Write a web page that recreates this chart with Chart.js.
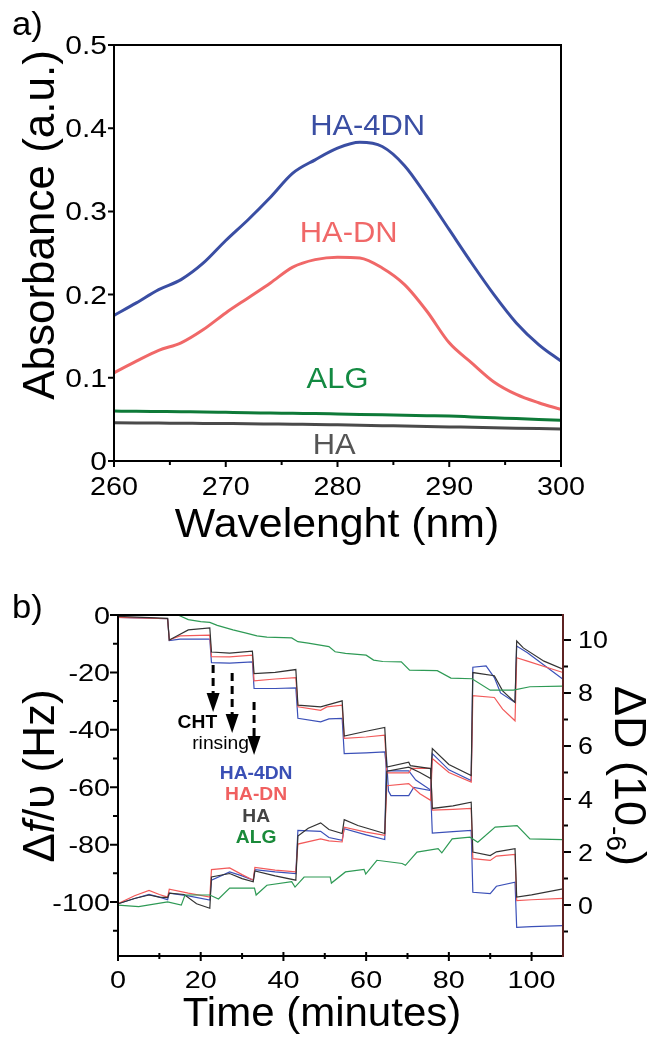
<!DOCTYPE html>
<html>
<head>
<meta charset="utf-8">
<script src="https://cdn.jsdelivr.net/npm/chart.js@4.4.0/dist/chart.umd.min.js"></script>
<style>
  html, body { margin: 0; padding: 0; background: #fff; }
  #wrap { position: relative; width: 654px; height: 1037px; overflow: hidden; }
  canvas { position: absolute; left: 0; }
  #chartA { top: 0; }
  #chartB { top: 560px; }
</style>
</head>
<body>
<div id="wrap">
  <canvas id="chartA" width="654" height="560"></canvas>
  <canvas id="chartB" width="654" height="477"></canvas>
</div>
<script>
const FONT = '"Liberation Sans", Arial, Helvetica, sans-serif';

// ---- panel a : UV absorbance ----
const wavelength = [260, 262, 264, 266, 268, 270, 272, 274, 276, 278, 280, 282, 284, 286, 288, 290, 292, 294, 296, 298, 300];
const absHA4DN = [0.175, 0.19, 0.206, 0.218, 0.238, 0.265, 0.29, 0.317, 0.346, 0.362, 0.376, 0.383, 0.378, 0.355, 0.318, 0.278, 0.238, 0.2, 0.166, 0.14, 0.12];
const absHADN  = [0.106, 0.12, 0.133, 0.142, 0.158, 0.178, 0.196, 0.214, 0.233, 0.242, 0.245, 0.244, 0.232, 0.212, 0.18, 0.142, 0.118, 0.095, 0.08, 0.07, 0.062];
const absALG   = [0.06, 0.0598, 0.0595, 0.0592, 0.059, 0.0585, 0.058, 0.0577, 0.0573, 0.057, 0.0565, 0.056, 0.0555, 0.055, 0.0545, 0.054, 0.053, 0.052, 0.051, 0.05, 0.049];
const absHA    = [0.046, 0.0458, 0.0456, 0.0454, 0.0452, 0.045, 0.0448, 0.0445, 0.0442, 0.044, 0.0435, 0.043, 0.0425, 0.042, 0.0415, 0.041, 0.0405, 0.04, 0.0395, 0.039, 0.0385];

const aXTicks = [260, 270, 280, 290, 300];
const aXMinor = [265, 275, 285, 295];
const aYTicks = [0, 0.1, 0.2, 0.3, 0.4, 0.5];
const aYLabels = ["0", "0.1", "0.2", "0.3", "0.4", "0.5"];

// curve labels of panel a: [text, wavelength, absorbance, colour]
const aLabels = [
  ["HA-4DN", 282.7, 0.392, "#3a4ea3"],
  ["HA-DN", 281.0, 0.263, "#f06868"],
  ["ALG", 280.0, 0.088, "#138a42"],
  ["HA", 279.7, 0.008, "#555555"]
];

// ---- panel b : QCM-D, [time (min), value] ----
const dfHA4DN = [[0,-0.8],[12.0,-1.3],[12.4,-8.9],[15,-8.4],[22.2,-8.4],[22.6,-16.6],[27,-16.8],[32.5,-16.3],[32.9,-25.6],[38,-25.6],[43.0,-25.4],[43.5,-36],[49,-37.2],[51,-36.2],[54.2,-36],[54.7,-48.3],[60,-48],[64.5,-47.7],[65.0,-54.3],[70.3,-54.3],[72,-57.5],[75.6,-61],[76.0,-76],[81,-75.5],[85.4,-75],[85.8,-96.6],[90,-97.1],[91.5,-94.5],[96.0,-93.1],[96.4,-108.8],[100,-108.6],[107.6,-108.2]];
const dfHADN  = [[0,-0.8],[12.0,-1.3],[12.4,-8.7],[15,-7.3],[22.2,-7],[22.6,-14.5],[27,-14.6],[32.5,-14],[32.9,-22.9],[38,-22.3],[43.0,-21.8],[43.5,-32],[49,-33.2],[50.5,-32],[54.2,-31.4],[54.7,-43],[60,-42.5],[64.5,-41.9],[65.0,-55],[70.3,-55],[71,-53.4],[75.6,-53.4],[76.0,-68],[81,-67.7],[85.4,-67.4],[85.8,-84.9],[90,-85.5],[91.5,-84],[96.0,-83.4],[96.4,-99.5],[100,-99.2],[107.6,-98.7]];
const dfHA    = [[0,-0.5],[12.0,-1.2],[12.4,-8.7],[14,-7.5],[17,-5.2],[22.2,-4.5],[22.6,-12.9],[27,-13.3],[32.5,-12.6],[32.9,-20.4],[38,-20],[43.0,-19],[43.5,-31.4],[49,-32],[54.2,-29.9],[54.7,-42.2],[60,-40.5],[64.5,-39.2],[65.0,-53],[70.3,-51.3],[70.7,-52.5],[75.6,-53.5],[76.0,-67.4],[81,-66.5],[85.4,-65.2],[85.8,-82.6],[90,-83.8],[91.5,-82.5],[96.0,-81.4],[96.4,-98.3],[100,-97.5],[107.6,-95.4]];
const dfALG   = [[0,0],[14.5,0],[17,-1.6],[20,-2.3],[22.2,-2.6],[24,-3.6],[27.8,-5.2],[31,-6.3],[33.6,-7.3],[36,-7.7],[42,-8],[43.5,-9.3],[46,-9.8],[51,-11],[52.5,-12.8],[55,-13.4],[60,-14],[61.8,-15.7],[64,-16.2],[68.5,-16.3],[70.5,-19.2],[77.2,-19.4],[80.5,-22],[85.6,-22.2],[90,-26.2],[95.6,-26.2],[99.6,-25],[107.6,-24.8]];

const ddHA4DN = [[0,0.05],[4,0.25],[7.5,0.4],[10,0.3],[12.0,0.2],[12.4,0.45],[17,0.35],[22.2,0.19],[22.6,0.94],[27,1.25],[30,1.1],[32.7,0.94],[33.1,1.34],[38,1.25],[43.0,1.19],[43.5,2.82],[49,2.78],[51,2.55],[54.2,2.44],[54.7,2.88],[60,2.65],[64.5,2.47],[64.9,5.6],[65.4,4.3],[66,4.13],[70.3,4.13],[71.5,4.44],[75.6,4.32],[76.0,5.71],[80,5.1],[85.4,4.7],[85.8,8.97],[89,9.02],[91,8.58],[92.5,8.0],[96.0,7.64],[96.4,9.77],[99,9.52],[107.6,8.52]];
const ddHADN  = [[0,0.05],[4,0.35],[7.5,0.55],[10,0.4],[12.0,0.3],[12.4,0.6],[17,0.45],[22.2,0.3],[22.6,1.34],[27,1.4],[30,1.15],[32.7,0.94],[33.1,1.42],[38,1.32],[43.0,1.25],[43.5,2.3],[49,2.5],[51,2.42],[54.2,2.38],[54.7,2.94],[60,2.75],[64.5,2.63],[65.0,4.5],[70.3,4.58],[73,4.2],[75.6,3.95],[76.0,5.53],[80,5.0],[85.4,4.64],[85.8,7.9],[91,7.83],[93,7.39],[96.0,6.95],[96.4,9.33],[99,9.2],[107.6,8.77]];
const ddHA    = [[0,0.05],[4,0.25],[7.5,0.38],[10,0.3],[12.0,0.28],[12.4,0.45],[16,0.4],[19,0.05],[22.2,-0.12],[22.6,1.06],[27,1.19],[30,1.0],[32.7,0.88],[33.1,1.29],[38,1.1],[43.0,0.94],[43.5,2.6],[46,2.9],[49,3.1],[51,2.85],[54.2,2.7],[54.7,3.22],[58,3.0],[64.5,2.7],[65.0,5.05],[70.3,5.2],[73,5.0],[75.6,4.77],[76.0,5.9],[80,5.3],[85.4,4.89],[85.8,8.77],[91,8.65],[93,8.08],[96.0,7.64],[96.4,9.96],[98,9.7],[103,9.2],[107.6,8.9]];
const ddALG   = [[0,0],[5,-0.06],[12,0.12],[15.3,0],[16.2,0.38],[22.2,0.38],[24.3,0.23],[27,0.64],[33.0,0.64],[33.4,0.38],[36,0.75],[42,0.88],[42.8,0.68],[45,1.06],[51.3,1.06],[51.6,0.83],[55,1.25],[59.5,1.35],[59.9,1.17],[62.6,1.69],[68.7,1.57],[69.5,1.5],[72.3,2.0],[77.4,2.13],[78.3,1.97],[80.8,2.5],[85.1,2.56],[87,2.37],[91.2,2.94],[96.5,3.0],[99.6,2.5],[107.6,2.47]];

const bXTicks = [0, 20, 40, 60, 80, 100];
const bXMinor = [10, 30, 50, 70, 90];
const bFTicks = [0, -20, -40, -60, -80, -100];
const bFMinor = [-10, -30, -50, -70, -90, -110];
const bDTicks = [0, 2, 4, 6, 8, 10];
const bDMinor = [-1, 1, 3, 5, 7, 9];

// dashed arrows: [time, from Δf, to Δf]
const bArrows = [[23.0, -17.4, -33.8], [27.6, -20.2, -41.1], [32.9, -30.3, -48.8]];
// annotation text: [text, time, Δf, colour, weight]
const bLabels = [
  ["CHT", 19.2, -39.4, "#000000", "bold"],
  ["rinsing", 24.8, -46.7, "#000000", "normal"],
  ["HA-4DN", 33.4, -57.1, "#3a4fb5", "bold"],
  ["HA-DN", 33.4, -64.5, "#f06060", "bold"],
  ["HA", 33.4, -72.1, "#444444", "bold"],
  ["ALG", 33.4, -79.4, "#1a8a3a", "bold"]
];

function txt(ctx, s, x, y, font, color, align, sx) {
  ctx.save();
  ctx.font = font;
  ctx.fillStyle = color;
  ctx.textAlign = align || "center";
  ctx.textBaseline = "alphabetic";
  ctx.translate(x, y);
  ctx.scale(sx || 1, 1);
  ctx.fillText(s, 0, 0);
  ctx.restore();
}

// rotated text made of parts {s, font, dy}
function rotText(ctx, parts, x, y, angle) {
  ctx.save();
  ctx.translate(x, y);
  ctx.rotate(angle);
  ctx.fillStyle = "#000";
  ctx.textBaseline = "alphabetic";
  ctx.textAlign = "left";
  let total = 0;
  parts.forEach(p => { ctx.font = p.font; p.w = ctx.measureText(p.s).width; total += p.w; });
  let cx = -total / 2;
  parts.forEach(p => { ctx.font = p.font; ctx.fillText(p.s, cx, p.dy || 0); cx += p.w; });
  ctx.restore();
}

function hiddenScale(extra) {
  return Object.assign({
    type: "linear",
    grid: { display: false, drawTicks: false },
    border: { display: false },
    ticks: { display: false }
  }, extra);
}

const lineA = (label, data, color, w) => ({
  label,
  data: wavelength.map((x, i) => ({ x, y: data[i] })),
  borderColor: color,
  borderWidth: w,
  pointRadius: 0,
  fill: false,
  cubicInterpolationMode: "monotone"
});

const decorA = {
  id: "decorA",
  afterDraw(chart) {
    const { ctx, chartArea: ca, scales: { x, y } } = chart;
    ctx.save();
    ctx.strokeStyle = "#000";
    ctx.lineWidth = 2;
    ctx.strokeRect(ca.left, ca.top, ca.right - ca.left, ca.bottom - ca.top);
    ctx.beginPath();
    aXTicks.forEach(v => { const p = x.getPixelForValue(v); ctx.moveTo(p, ca.bottom); ctx.lineTo(p, ca.bottom + 6); });
    aXMinor.forEach(v => { const p = x.getPixelForValue(v); ctx.moveTo(p, ca.bottom); ctx.lineTo(p, ca.bottom + 4); });
    aYTicks.forEach(v => { const p = y.getPixelForValue(v); ctx.moveTo(ca.left, p); ctx.lineTo(ca.left - 6, p); });
    ctx.stroke();
    ctx.restore();

    aXTicks.forEach(v => txt(ctx, String(v), x.getPixelForValue(v), 495, "25px " + FONT, "#000", "center", 1.15));
    aYTicks.forEach((v, i) => txt(ctx, aYLabels[i], ca.left - 7, y.getPixelForValue(v) + 9, "25px " + FONT, "#000", "right", 1.2));
    txt(ctx, "Wavelenght (nm)", 337, 537, "40px " + FONT, "#000", "center", 1.07);
    rotText(ctx, [{ s: "Absorbance (a.u.)", font: "44px " + FONT }], 54, 225, -Math.PI / 2);
    txt(ctx, "a)", 12, 35, "33px " + FONT, "#000", "left", 1.05);

    aLabels.forEach(l => txt(ctx, l[0], x.getPixelForValue(l[1]), y.getPixelForValue(l[2]), "30px " + FONT, l[3], "center", 1.03));
  }
};

new Chart(document.getElementById("chartA"), {
  type: "line",
  data: {
    datasets: [
      lineA("HA", absHA, "#4a4a4a", 3),
      lineA("ALG", absALG, "#0e7a38", 3),
      lineA("HA-DN", absHADN, "#f06868", 3),
      lineA("HA-4DN", absHA4DN, "#3a4ea3", 3)
    ]
  },
  options: {
    responsive: false,
    animation: false,
    devicePixelRatio: 1,
    layout: { padding: { left: 0, top: 45, right: 93, bottom: 0 } },
    plugins: { legend: { display: false }, tooltip: { enabled: false } },
    scales: {
      x: hiddenScale({ min: 260, max: 300, afterFit: s => { s.height = 99; } }),
      y: hiddenScale({ min: 0, max: 0.5, afterFit: s => { s.width = 114; } })
    }
  },
  plugins: [decorA]
});

const lineB = (label, data, color, axis) => ({
  label,
  data: data.map(p => ({ x: p[0], y: p[1] })),
  yAxisID: axis,
  borderColor: color,
  borderWidth: 1.2,
  pointRadius: 0,
  fill: false,
  tension: 0
});

function dashedArrow(ctx, px, y0, y1) {
  ctx.save();
  ctx.strokeStyle = "#000";
  ctx.fillStyle = "#000";
  ctx.lineWidth = 3;
  ctx.setLineDash([8, 5]);
  ctx.beginPath();
  ctx.moveTo(px, y0);
  ctx.lineTo(px, y1 - 18);
  ctx.stroke();
  ctx.setLineDash([]);
  ctx.beginPath();
  ctx.moveTo(px - 6.5, y1 - 19);
  ctx.lineTo(px + 6.5, y1 - 19);
  ctx.lineTo(px, y1);
  ctx.closePath();
  ctx.fill();
  ctx.restore();
}

const decorB = {
  id: "decorB",
  afterDraw(chart) {
    const { ctx, chartArea: ca, scales: { x, y, y2 } } = chart;
    ctx.save();
    ctx.lineWidth = 2;
    ctx.strokeStyle = "#000";
    ctx.beginPath();
    ctx.moveTo(ca.right, ca.top);
    ctx.lineTo(ca.left, ca.top);
    ctx.lineTo(ca.left, ca.bottom);
    ctx.lineTo(ca.right, ca.bottom);
    bXTicks.forEach(v => { const p = x.getPixelForValue(v); ctx.moveTo(p, ca.bottom - 4); ctx.lineTo(p, ca.bottom + 5); });
    bXMinor.forEach(v => { const p = x.getPixelForValue(v); ctx.moveTo(p, ca.bottom - 3); ctx.lineTo(p, ca.bottom + 3); });
    bFTicks.forEach(v => { const p = y.getPixelForValue(v); ctx.moveTo(ca.left, p); ctx.lineTo(ca.left - 8, p); });
    bFMinor.forEach(v => { const p = y.getPixelForValue(v); ctx.moveTo(ca.left, p); ctx.lineTo(ca.left - 5, p); });
    bDTicks.forEach(v => { const p = y2.getPixelForValue(v); ctx.moveTo(ca.right, p); ctx.lineTo(ca.right + 8, p); });
    bDMinor.forEach(v => { const p = y2.getPixelForValue(v); ctx.moveTo(ca.right, p); ctx.lineTo(ca.right + 5, p); });
    ctx.stroke();
    ctx.strokeStyle = "#5e2323";
    ctx.beginPath();
    ctx.moveTo(ca.right, ca.top - 1);
    ctx.lineTo(ca.right, ca.bottom + 1);
    ctx.stroke();
    ctx.restore();

    bXTicks.forEach(v => txt(ctx, String(v), x.getPixelForValue(v), 428, "24px " + FONT, "#000", "center", 1.2));
    bFTicks.forEach(v => txt(ctx, String(v), ca.left - 8, y.getPixelForValue(v) + 8.5, "24px " + FONT, "#000", "right", 1.2));
    bDTicks.forEach(v => txt(ctx, String(v), ca.right + 15, y2.getPixelForValue(v) + 8.5, "24px " + FONT, "#000", "left", 1.12));

    txt(ctx, "Time (minutes)", 322, 466, "40px " + FONT, "#000", "center", 1.05);
    rotText(ctx, [
      { s: "Δ", font: "44px " + FONT },
      { s: "f", font: "italic 44px " + FONT },
      { s: "/υ (Hz)", font: "44px " + FONT }
    ], 54, 216, -Math.PI / 2);
    rotText(ctx, [
      { s: "ΔD (10", font: "45px " + FONT },
      { s: "-6", font: "28px " + FONT, dy: 8 },
      { s: ")", font: "45px " + FONT }
    ], 615, 216, Math.PI / 2);
    txt(ctx, "b)", 12, 58, "33px " + FONT, "#000", "left", 1.05);

    bArrows.forEach(a => dashedArrow(ctx, x.getPixelForValue(a[0]), y.getPixelForValue(a[1]), y.getPixelForValue(a[2])));
    bLabels.forEach(l => txt(ctx, l[0], x.getPixelForValue(l[1]), y.getPixelForValue(l[2]), l[4] + " 18px " + FONT, l[3], "center", 1.07));
  }
};

new Chart(document.getElementById("chartB"), {
  type: "line",
  data: {
    datasets: [
      lineB("ALG Δf", dfALG, "#2e9a55", "y"),
      lineB("ALG ΔD", ddALG, "#2e9a55", "y2"),
      lineB("HA Δf", dfHA, "#333333", "y"),
      lineB("HA ΔD", ddHA, "#333333", "y2"),
      lineB("HA-DN Δf", dfHADN, "#f25a5a", "y"),
      lineB("HA-DN ΔD", ddHADN, "#f25a5a", "y2"),
      lineB("HA-4DN Δf", dfHA4DN, "#3b50b8", "y"),
      lineB("HA-4DN ΔD", ddHA4DN, "#3b50b8", "y2")
    ]
  },
  options: {
    responsive: false,
    animation: false,
    devicePixelRatio: 1,
    layout: { padding: { left: 0, top: 55, right: 0, bottom: 0 } },
    plugins: { legend: { display: false }, tooltip: { enabled: false } },
    scales: {
      x: hiddenScale({ min: 0, max: 107.6, afterFit: s => { s.height = 81; } }),
      y: hiddenScale({ position: "left", min: -118.8, max: 0, afterFit: s => { s.width = 118; } }),
      y2: hiddenScale({ position: "right", min: -1.92, max: 10.94, afterFit: s => { s.width = 91; } })
    }
  },
  plugins: [decorB]
});
</script>
</body>
</html>
